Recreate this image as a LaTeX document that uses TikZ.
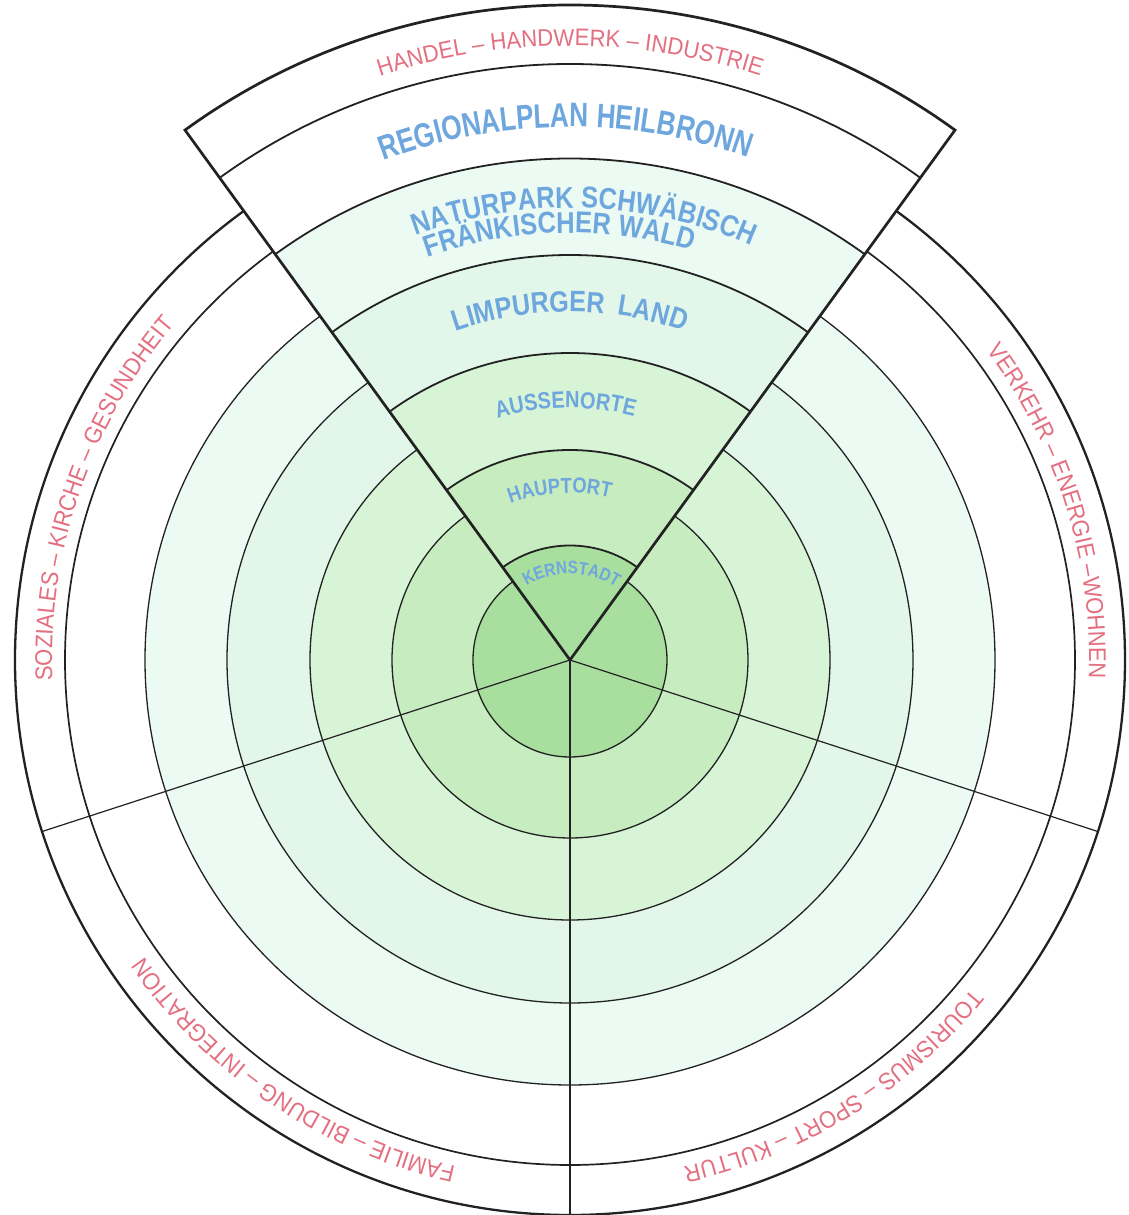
\documentclass[tikz,border=0pt]{standalone}
\usepackage{fontspec}
\setmainfont{Liberation Sans}
\usetikzlibrary{decorations.text}
\newfontfamily\redfam[FakeStretch=0.92]{Liberation Sans}
\newfontfamily\bluefam[FakeStretch=0.85]{Liberation Sans}
\newfontfamily\bluefamn[FakeStretch=0.77]{Liberation Sans}
\definecolor{lblred}{HTML}{E46F80}
\definecolor{lblblue}{HTML}{6EA6DE}
\definecolor{gA}{HTML}{A8DE9E}
\definecolor{gB}{HTML}{C6ECBF}
\definecolor{gC}{HTML}{D8F4D7}
\definecolor{gD}{HTML}{E2F7E9}
\definecolor{gE}{HTML}{EBFAF3}
\definecolor{ink}{HTML}{222222}
\newcommand\redfnt{\redfam\fontsize{24pt}{24pt}\selectfont\color{lblred}}
\newcommand\bluefnt[1]{\bluefam\bfseries\fontsize{#1}{#1}\selectfont\color{lblblue}}
\newcommand\bluefntn[1]{\bluefamn\bfseries\fontsize{#1}{#1}\selectfont\color{lblblue}}
\tikzset{
  ring/.style={draw=ink, line width=1.3pt},
  midring/.style={draw=ink, line width=1.7pt},
  rim/.style={draw=ink, line width=2.3pt},
  spoke/.style={draw=ink, line width=1.2pt},
  warc/.style={draw=ink, line width=1.8pt},
  wedgeoutline/.style={draw=ink, line width=2.7pt, line join=miter},
  curvelabel/.style={decorate, decoration={text along path, text align=center, text={#1}}},
  curvelabelleft/.style={decorate, decoration={text along path, text align=left, text={#1}}}
}
\begin{document}
\begin{tikzpicture}[x=1pt,y=1pt]
\useasboundingbox (-570,-555) rectangle (558,660);
\fill[white] (-570,-555) rectangle (558,660);
\coordinate (O) at (0,0);
% filled rings of the circle
\fill[gE] (O) circle[radius=425pt];
\fill[gD] (O) circle[radius=343pt];
\fill[gC] (O) circle[radius=260pt];
\fill[gB] (O) circle[radius=178pt];
\fill[gA] (O) circle[radius=97pt];
% circles
\foreach \r in {97,178,260,343,425} \draw[ring] (O) circle[radius=\r pt];
\draw[midring] (O) circle[radius=505pt];
\draw[rim] (O) circle[radius=555pt];
% spokes
\coordinate (S1) at (198:555pt);
\coordinate (S2) at (270:555pt);
\coordinate (S3) at (342:555pt);
\draw[spoke] (O) -- (S1);
\draw[spoke] (O) -- (S2);
\draw[spoke] (O) -- (S3);
% wedge (enlarged sector)
\fill[white] (O) -- (54:655pt) arc[start angle=54,end angle=126,radius=655pt] -- cycle;
\foreach \r/\c in {501.5/gE,405/gD,307/gC,210/gB,114.5/gA}
  \fill[\c] (O) -- (54:\r pt) arc[start angle=54,end angle=126,radius=\r pt] -- cycle;
\foreach \r in {114.5,210,307,405,501.5,596}
  \draw[warc] (54:\r pt) arc[start angle=54,end angle=126,radius=\r pt];
\coordinate (WR) at (54:655pt);
\coordinate (WL) at (126:655pt);
\draw[wedgeoutline] (O) -- (WR) arc[start angle=54,end angle=126,radius=655pt] -- cycle;
% red labels
\path[curvelabel={|\redfnt|HANDEL – HANDWERK – INDUSTRIE}] (150:614pt) arc[start angle=150,end angle=30,radius=614pt];
\path[curvelabel={|\redfnt|SOZIALES – KIRCHE – GESUNDHEIT}] (221:518pt) arc[start angle=221,end angle=101,radius=518pt];
\path[curvelabel={|\redfnt|VERKEHR – ENERGIE –WOHNEN}] (77.3:519pt) arc[start angle=77.3,end angle=-42.7,radius=519pt];
\path[curvelabel={|\redfnt|TOURISMUS – SPORT – KULTUR}] (1.7:519pt) arc[start angle=1.7,end angle=-118.3,radius=519pt];
\path[curvelabel={|\redfnt|FAMILIE – BILDUNG – INTEGRATION}] (296.1:519pt) arc[start angle=296.1,end angle=176.1,radius=519pt];
% blue labels
\path[curvelabel={|\bluefntn{34pt}|REGIONALPLAN HEILBRONN}] (150.5:533pt) arc[start angle=150.5,end angle=30.5,radius=533pt];
\path[curvelabelleft={|\bluefnt{30pt}|NATURPARK SCHWÄBISCH}] (110:452pt) arc[start angle=110,end angle=-10,radius=452pt];
\path[curvelabelleft={|\bluefnt{30pt}|FRÄNKISCHER WALD}] (109.5:427pt) arc[start angle=109.5,end angle=-10.5,radius=427pt];
\path[curvelabel={|\bluefnt{29.5pt}|LIMPURGER{\kern6pt} LAND}] (150:348pt) arc[start angle=150,end angle=30,radius=348pt];
\path[curvelabel={|\bluefnt{23.5pt}|AUSSENORTE}] (151:252pt) arc[start angle=151,end angle=31,radius=252pt];
\path[curvelabel={|\bluefnt{21.5pt}|HAUPTORT}] (153.5:167pt) arc[start angle=153.5,end angle=33.5,radius=167pt];
\path[curvelabel={|\bluefnt{18pt}|KERNSTADT}] (149:86pt) arc[start angle=149,end angle=29,radius=86pt];
\end{tikzpicture}
\end{document}
